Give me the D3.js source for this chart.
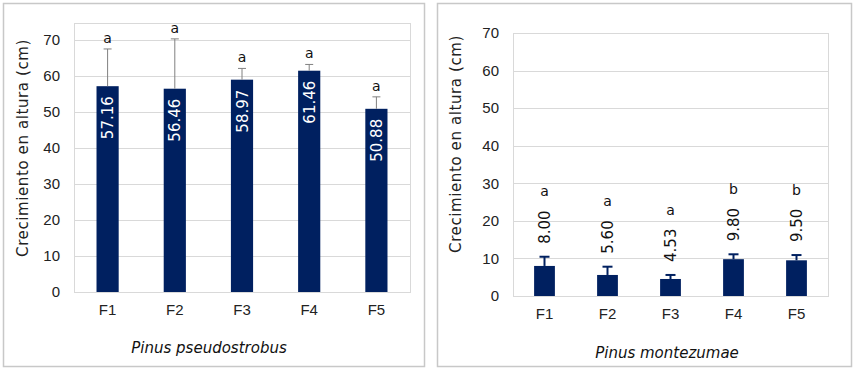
<!DOCTYPE html>
<html>
<head>
<meta charset="utf-8">
<script src="https://cdn.jsdelivr.net/npm/d3@7"></script>
<style>
  body { margin: 0; background: #fff; }
  svg { display: block; font-family: 'DejaVu Sans', Verdana, sans-serif; }
</style>
</head>
<body>
<svg id="chart" width="855" height="372"></svg>
<script>
const categories = ['F1', 'F2', 'F3', 'F4', 'F5']

// Pinus pseudostrobus
const pseudoMeans = [57.16, 56.46, 58.97, 61.46, 50.88]
const pseudoErrTop = [67.5, 70.3, 62.1, 63.2, 54.2]
const pseudoLetters = ['a', 'a', 'a', 'a', 'a']

// Pinus montezumae
const montMeans = [8.00, 5.60, 4.53, 9.80, 9.50]
const montErrTop = [10.45, 7.8, 5.6, 11.1, 10.9]
const montLetters = ['a', 'a', 'a', 'b', 'b']

const yTicks = [0, 10, 20, 30, 40, 50, 60, 70]

const svg = d3.select('#chart')
const navy = '#002060'

function panel (opt) {
  const g = svg.append('g')

  // outer frame
  g.append('rect')
    .attr('x', opt.frame[0] + 0.5).attr('y', opt.frame[1] + 0.5)
    .attr('width', opt.frame[2]).attr('height', opt.frame[3])
    .attr('fill', '#fff').attr('stroke', '#c8c8c8').attr('stroke-width', 1.5)

  const x = d3.scaleBand().domain(categories).range([opt.left, opt.right]).paddingInner(0.67).paddingOuter(0.335)
  const y = d3.scaleLinear().domain([0, opt.yMax]).range([opt.bottom, opt.top])

  // grid
  g.append('g')
    .selectAll('line')
    .data(yTicks.filter(d => d > 0))
    .join('line')
    .attr('x1', opt.left).attr('x2', opt.right)
    .attr('y1', d => Math.round(y(d)) + 0.5).attr('y2', d => Math.round(y(d)) + 0.5)
    .attr('stroke', '#d9d9d9')

  // plot area frame
  g.append('rect')
    .attr('x', opt.left + 0.5).attr('y', Math.round(opt.top) + 0.5)
    .attr('width', opt.right - opt.left).attr('height', Math.round(opt.bottom) - Math.round(opt.top))
    .attr('fill', 'none').attr('stroke', '#d9d9d9')

  // y axis labels
  const yAxis = d3.axisLeft(y).tickValues(yTicks).tickSize(0).tickPadding(opt.tickPad)
  g.append('g')
    .attr('transform', `translate(${opt.left},0)`)
    .call(yAxis)
    .call(s => s.select('.domain').remove())
    .call(s => s.selectAll('text').attr('font-size', 15).attr('fill', '#222').attr('font-family', null))

  // x axis labels
  const xAxis = d3.axisBottom(x).tickSize(0).tickPadding(opt.xPad)
  g.append('g')
    .attr('transform', `translate(0,${opt.bottom})`)
    .call(xAxis)
    .call(s => s.select('.domain').remove())
    .call(s => s.selectAll('text').attr('font-size', 15).attr('fill', '#222').attr('font-family', null))

  // bars
  g.append('g')
    .selectAll('rect')
    .data(opt.means)
    .join('rect')
    .attr('x', (d, i) => x(categories[i]))
    .attr('width', x.bandwidth())
    .attr('y', d => y(d))
    .attr('height', d => y(0) - y(d))
    .attr('fill', navy)

  // error bars
  const err = g.append('g')
    .attr('stroke', opt.errColor)
    .attr('stroke-width', opt.errWidth)
  opt.errTop.forEach((e, i) => {
    const cx = x(categories[i]) + x.bandwidth() / 2
    err.append('line').attr('x1', cx).attr('x2', cx).attr('y1', y(opt.means[i])).attr('y2', y(e))
    err.append('line').attr('x1', cx - opt.cap).attr('x2', cx + opt.cap).attr('y1', y(e)).attr('y2', y(e))
  })

  // value labels (rotated)
  g.append('g')
    .selectAll('text')
    .data(opt.means)
    .join('text')
    .attr('transform', (d, i) => {
      const cx = x(categories[i]) + x.bandwidth() / 2
      const yy = opt.inside ? y(d) + 10 : y(opt.errTop[i]) - 13
      return `translate(${cx + 5.5},${yy}) rotate(-90)`
    })
    .attr('text-anchor', opt.inside ? 'end' : 'start')
    .attr('font-size', 15)
    .attr('fill', opt.inside ? '#fff' : '#111')
    .text(d => d.toFixed(2))

  // significance letters
  g.append('g')
    .selectAll('text')
    .data(opt.letters)
    .join('text')
    .attr('x', (d, i) => x(categories[i]) + x.bandwidth() / 2)
    .attr('y', (d, i) => opt.inside
      ? y(opt.errTop[i]) - 6
      : y(opt.errTop[i]) - 13 - (opt.means[i].toFixed(2).length * 8.6) - 13)
    .attr('text-anchor', 'middle')
    .attr('font-size', 14)
    .attr('fill', '#111')
    .text(d => d)

  // y axis title
  g.append('text')
    .attr('transform', `translate(${opt.yTitleX},${opt.yTitleY}) rotate(-90)`)
    .attr('text-anchor', 'middle')
    .attr('font-size', 15)
    .attr('letter-spacing', 0.6)
    .attr('fill', '#222')
    .text('Crecimiento en altura (cm)')

  // species title
  g.append('text')
    .attr('x', opt.titleX).attr('y', opt.titleY)
    .attr('text-anchor', 'middle')
    .attr('font-size', 15)
    .attr('font-style', 'italic')
    .attr('fill', '#111')
    .text(opt.title)
}

panel({
  frame: [3, 3, 421, 363],
  left: 74, right: 410, top: 22.5, bottom: 292,
  yMax: 74.85,
  tickPad: 14, xPad: 12,
  means: pseudoMeans, errTop: pseudoErrTop, letters: pseudoLetters,
  errColor: '#808080', errWidth: 1, cap: 4,
  inside: true,
  yTitleX: 28, yTitleY: 148,
  title: 'Pinus pseudostrobus', titleX: 209, titleY: 353
})

panel({
  frame: [437, 3, 414, 363],
  left: 513, right: 828, top: 33, bottom: 296,
  yMax: 70,
  tickPad: 14, xPad: 12,
  means: montMeans, errTop: montErrTop, letters: montLetters,
  errColor: navy, errWidth: 2, cap: 5,
  inside: false,
  yTitleX: 461, yTitleY: 144,
  title: 'Pinus montezumae', titleX: 667, titleY: 358
})
</script>
</body>
</html>
